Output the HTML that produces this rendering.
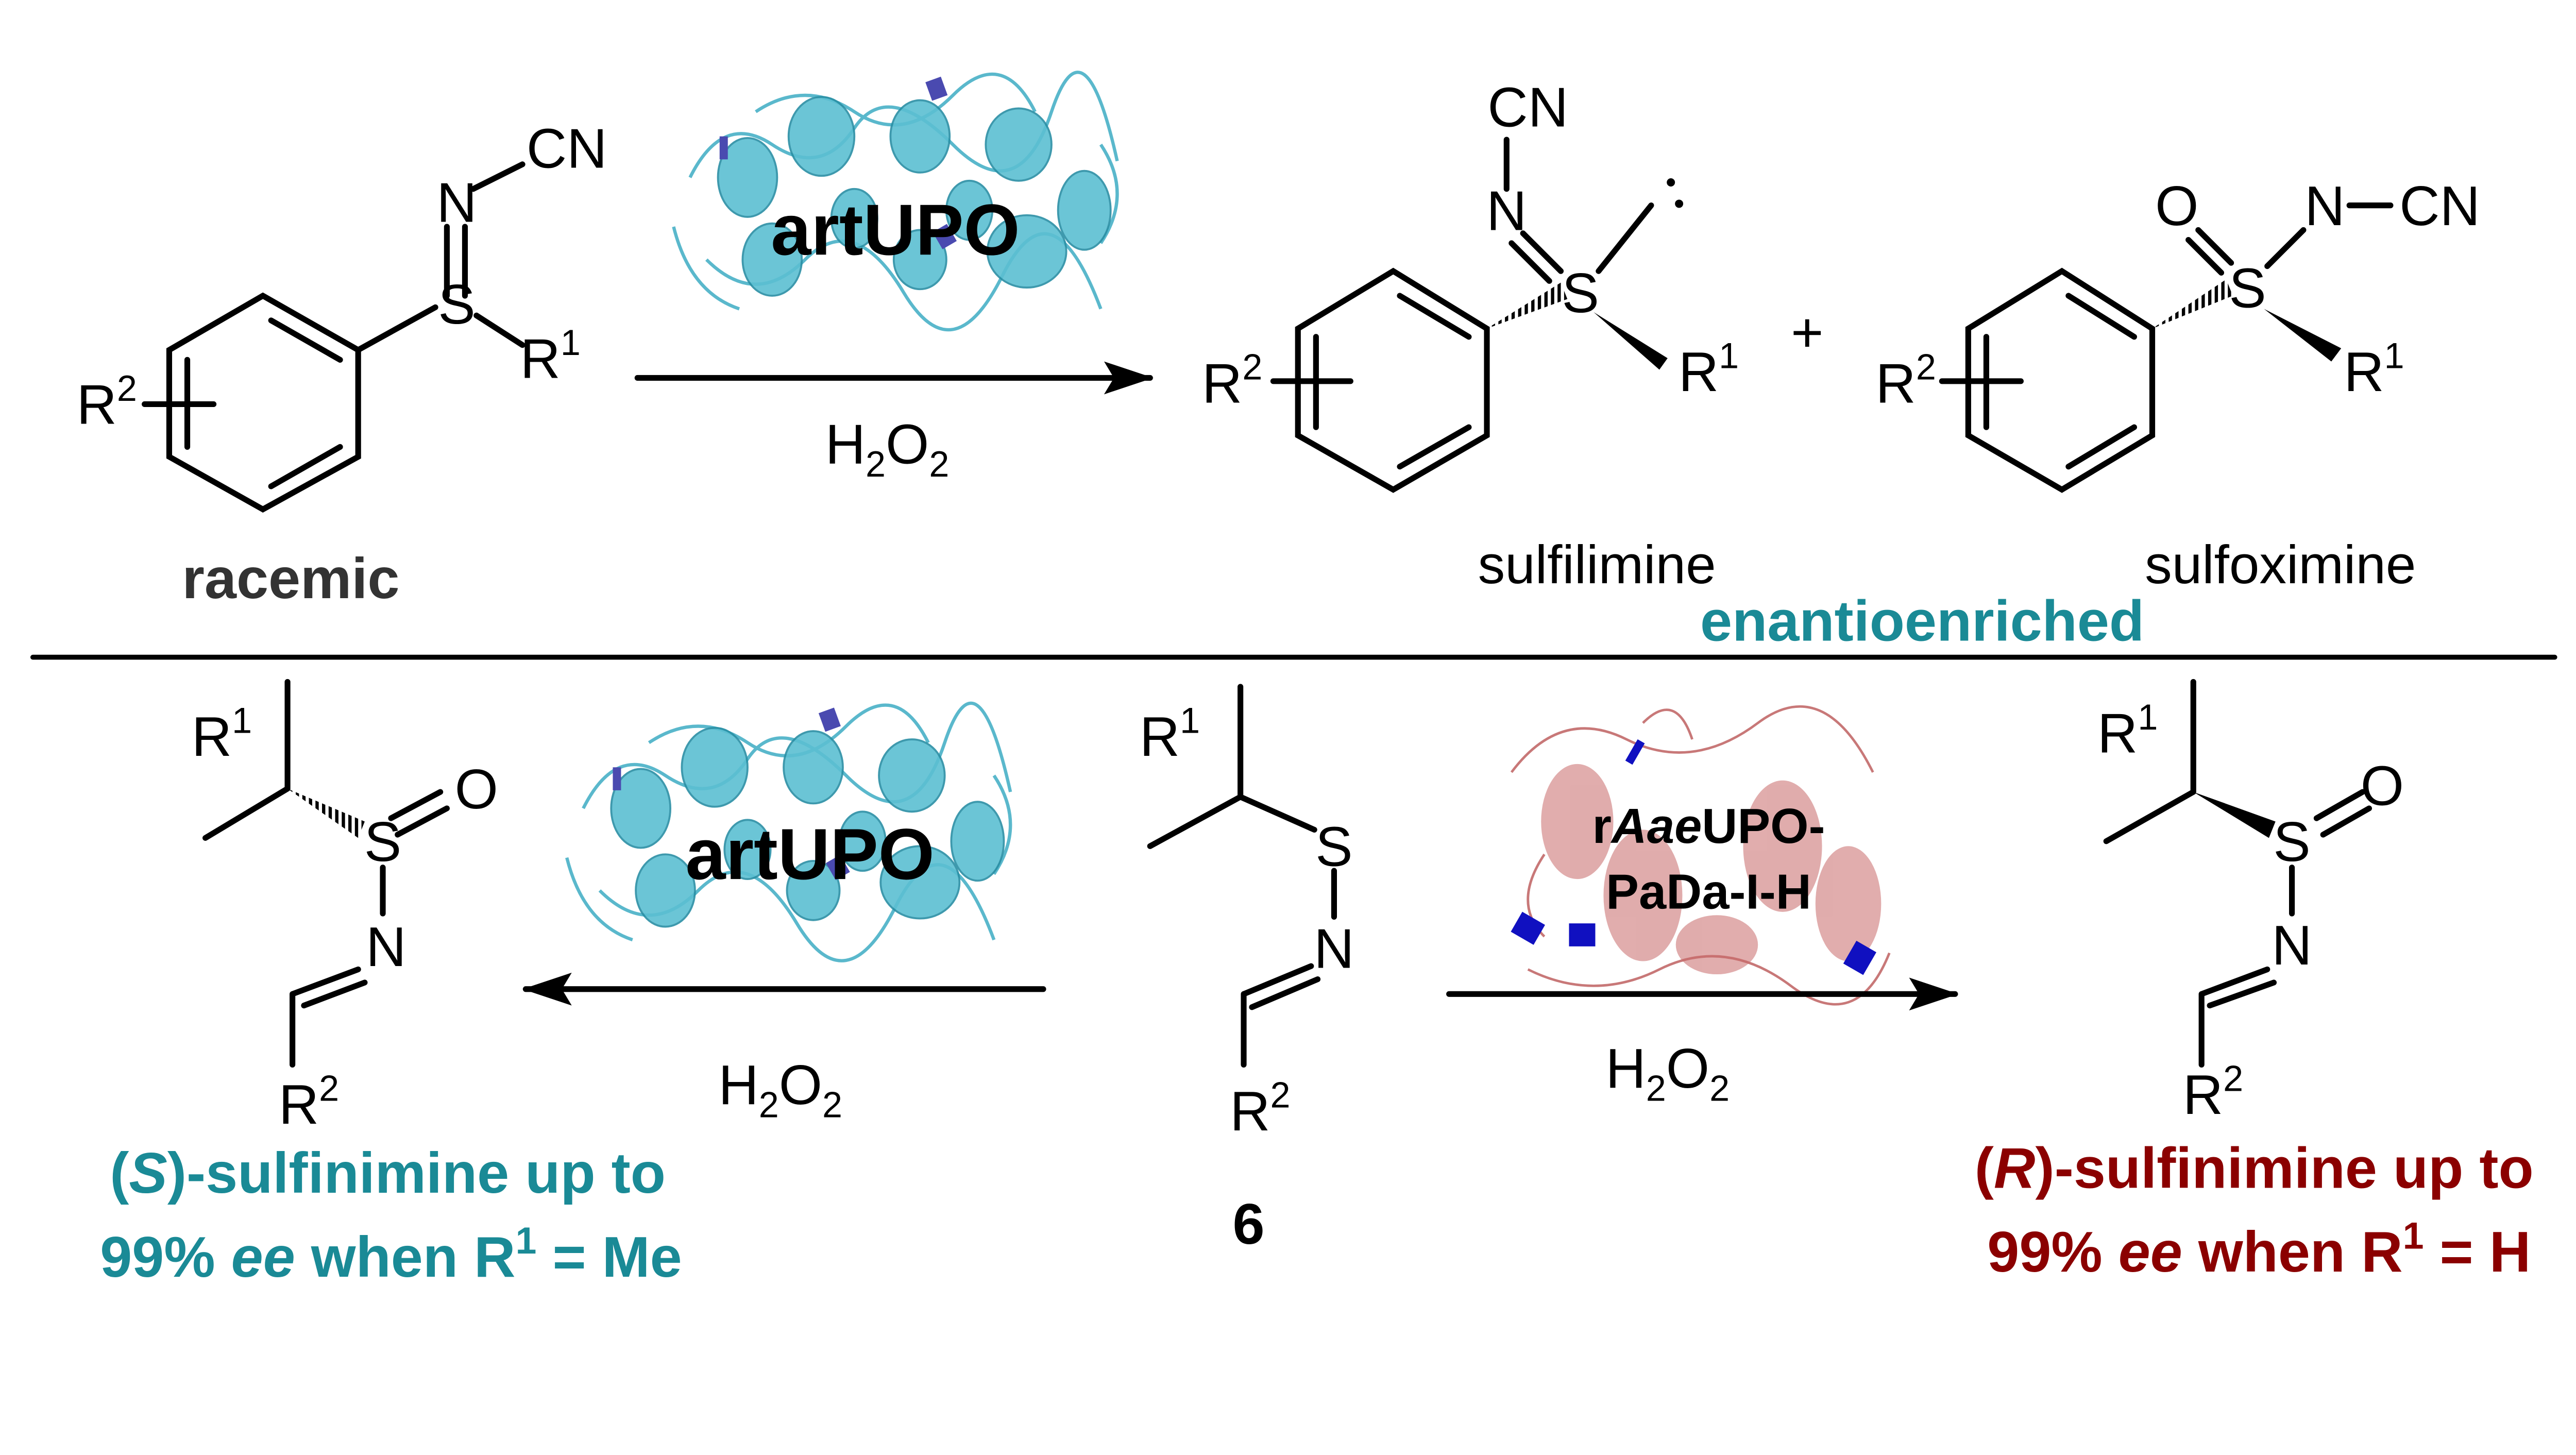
<!DOCTYPE html>
<html><head><meta charset="utf-8"><style>
html,body{margin:0;padding:0;background:#fff;overflow:hidden;}
svg{display:block;}
text{font-family:"Liberation Sans",sans-serif;}
</style></head><body>
<svg width="5249" height="2824" viewBox="0 0 1646 885" preserveAspectRatio="xMinYMin meet" xmlns="http://www.w3.org/2000/svg">
<defs>
<marker id="ah" markerWidth="30" markerHeight="20" refX="28" refY="10" orient="auto" markerUnits="userSpaceOnUse" viewBox="0 0 30 20">
<path d="M0,0 L30,10 L0,20 L6,10 z" fill="#000"/></marker>
<pattern id="hash" width="4" height="4" patternUnits="userSpaceOnUse"><rect width="2" height="4" fill="#000"/></pattern>
<g id="blueprot">
<path d="M-130,-20 q20,-40 50,-20 t50,-10 t60,10 t60,-20 t40,30 M-120,30 q30,30 60,0 t60,20 t60,-10 t60,20 M-90,-60 q30,-20 60,0 t60,-10 t50,10 M-140,10 q10,40 40,50 M120,-40 q20,30 0,60" stroke="#5ab8cc" stroke-width="2" fill="none"/>
<g fill="#5cbfd2" stroke="#2a8fa5" stroke-width="1.2" opacity="0.9">
<ellipse cx="-95" cy="-20" rx="18" ry="24"/><ellipse cx="-50" cy="-45" rx="20" ry="24"/>
<ellipse cx="10" cy="-45" rx="18" ry="22"/><ellipse cx="70" cy="-40" rx="20" ry="22"/>
<ellipse cx="-80" cy="30" rx="18" ry="22"/><ellipse cx="75" cy="25" rx="24" ry="22"/>
<ellipse cx="10" cy="30" rx="16" ry="18"/><ellipse cx="110" cy="0" rx="16" ry="24"/>
<ellipse cx="-30" cy="5" rx="14" ry="18"/><ellipse cx="40" cy="0" rx="14" ry="18"/>
</g>
<rect x="15" y="-80" width="10" height="12" fill="#4a4ab0" transform="rotate(-20 20 -74)"/>
<rect x="-112" y="-45" width="5" height="14" fill="#4a4ab0"/>
<rect x="20" y="10" width="10" height="12" fill="#4a4ab0" transform="rotate(-30 25 16)"/>
</g>
</defs>

<use href="#blueprot" x="550" y="128"/>
<use href="#blueprot" x="485" y="512"/>
<g>
<path d="M920,470 q30,-40 70,-20 t80,-10 t70,30 M930,590 q40,20 80,0 t80,10 t60,-20 M1000,440 q20,-20 30,10 M940,520 q-20,30 0,50" stroke="#c87878" stroke-width="1.5" fill="none"/>
<g fill="#c86a6a" opacity="0.55">
<ellipse cx="960" cy="500" rx="22" ry="35"/><ellipse cx="1000" cy="545" rx="24" ry="40"/>
<ellipse cx="1085" cy="515" rx="24" ry="40"/><ellipse cx="1125" cy="550" rx="20" ry="35"/>
<ellipse cx="1045" cy="575" rx="25" ry="18"/>
</g>
<rect x="922" y="558" width="16" height="14" fill="#1010c0" transform="rotate(30 930 565)"/>
<rect x="955" y="562" width="16" height="14" fill="#1010c0"/>
<rect x="1125" y="575" width="14" height="16" fill="#1010c0" transform="rotate(30 1132 583)"/>
<rect x="993" y="450" width="5" height="15" fill="#1010c0" transform="rotate(30 995 457)"/>
</g>

<g stroke="#000" stroke-width="3.5" fill="none" stroke-linecap="round">
<path d="M160,180 L218,213 L218,278 L160,310 L103,278 L103,213 Z"/>
<path d="M165,195 L207,219 M207,272 L165,296 M114,272 L114,219"/>
<path d="M218,213 L265,187 M283,180 L283,138 M272,180 L272,138 M288,115 L318,100 M290,192 L318,210"/>
<path d="M88,246 L130,246"/>
<path d="M848,165 L905,200 L905,265 L848,298 L790,265 L790,200 Z"/>
<path d="M852,180 L894,205 M894,260 L852,284 M801,260 L801,205"/>
<path d="M775,232 L822,232"/>
<path d="M927,142 L950,165 M920,148 L943,171 M917,115 L917,85 M973,165 L1005,125"/>
<path d="M1255,165 L1310,200 L1310,265 L1255,298 L1198,265 L1198,200 Z"/>
<path d="M1259,180 L1299,205 M1299,260 L1259,284 M1209,260 L1209,205"/>
<path d="M1182,232 L1230,232"/>
<path d="M1338,140 L1358,160 M1332,146 L1352,166 M1380,162 L1402,140 M1430,125 L1455,125"/>
<path d="M175,480 L175,415 M175,480 L125,510 M238,498 L268,482 M242,508 L272,492 M233,528 L233,556 M218,590 L178,605 M222,598 L185,612 M178,605 L178,648"/>
<path d="M755,485 L755,418 M755,485 L700,515 M755,485 L800,505 M812,530 L812,558 M798,588 L757,605 M802,596 L762,613 M757,605 L757,648"/>
<path d="M1335,482 L1335,415 M1335,482 L1282,512 M1410,498 L1438,482 M1414,508 L1442,492 M1395,528 L1395,556 M1380,590 L1340,605 M1384,598 L1345,612 M1340,605 L1340,648"/>
<path d="M388,230 L700,230" marker-end="url(#ah)"/>
<path d="M635,602 L320,602" marker-end="url(#ah)"/>
<path d="M882,605 L1190,605" marker-end="url(#ah)"/>
<path d="M20,400 L1555,400" stroke-width="3"/>
</g>
<polygon points="905,200 950,172 954,182" fill="url(#hash)"/>
<polygon points="1310,200 1355,170 1359,180" fill="url(#hash)"/>
<polygon points="175,480 222,500 218,510" fill="url(#hash)"/>
<polygon points="970,190 1015,218 1010,225" fill="#000"/>
<polygon points="1378,188 1425,212 1419,220" fill="#000"/>
<polygon points="1335,482 1385,500 1381,510" fill="#000"/>
<circle cx="1017" cy="111" r="2.5"/><circle cx="1022" cy="124" r="2.5"/>

<g font-size="34" fill="#000" text-anchor="middle">
<text x="278" y="135">N</text><text x="345" y="102">CN</text>
<text x="278" y="197">S</text><text x="335" y="230">R<tspan font-size="22" dy="-14">1</tspan></text>
<text x="65" y="258">R<tspan font-size="22" dy="-14">2</tspan></text>
<text x="930" y="77">CN</text><text x="917" y="140">N</text><text x="962" y="190">S</text>
<text x="1040" y="238">R<tspan font-size="22" dy="-14">1</tspan></text>
<text x="750" y="245">R<tspan font-size="22" dy="-14">2</tspan></text>
<text x="1100" y="214">+</text>
<text x="1325" y="137">O</text><text x="1415" y="137">N</text><text x="1485" y="137">CN</text>
<text x="1368" y="187">S</text><text x="1445" y="238">R<tspan font-size="22" dy="-14">1</tspan></text>
<text x="1160" y="245">R<tspan font-size="22" dy="-14">2</tspan></text>
<text x="972" y="355" font-size="33">sulfilimine</text>
<text x="1388" y="355" font-size="33">sulfoximine</text>
<text x="540" y="282">H<tspan font-size="22" dy="8">2</tspan><tspan dy="-8">O</tspan><tspan font-size="22" dy="8">2</tspan></text>
<text x="475" y="672">H<tspan font-size="22" dy="8">2</tspan><tspan dy="-8">O</tspan><tspan font-size="22" dy="8">2</tspan></text>
<text x="1015" y="662">H<tspan font-size="22" dy="8">2</tspan><tspan dy="-8">O</tspan><tspan font-size="22" dy="8">2</tspan></text>
<text x="135" y="460">R<tspan font-size="22" dy="-14">1</tspan></text>
<text x="290" y="492">O</text><text x="233" y="524">S</text><text x="235" y="588">N</text>
<text x="188" y="684">R<tspan font-size="22" dy="-14">2</tspan></text>
<text x="712" y="460">R<tspan font-size="22" dy="-14">1</tspan></text>
<text x="812" y="527">S</text><text x="812" y="589">N</text>
<text x="767" y="688">R<tspan font-size="22" dy="-14">2</tspan></text>
<text x="1295" y="458">R<tspan font-size="22" dy="-14">1</tspan></text>
<text x="1450" y="490">O</text><text x="1395" y="524">S</text><text x="1395" y="587">N</text>
<text x="1347" y="678">R<tspan font-size="22" dy="-14">2</tspan></text>
</g>
<g font-weight="bold" text-anchor="middle">
<text x="545" y="155" font-size="44" fill="#000">artUPO</text>
<text x="493" y="535" font-size="44" fill="#000">artUPO</text>
<text x="1040" y="513" font-size="30" fill="#000">r<tspan font-style="italic">Aae</tspan>UPO-</text>
<text x="1040" y="553" font-size="30" fill="#000">PaDa-I-H</text>
<text x="177" y="364" font-size="35" fill="#333">racemic</text>
<text x="1170" y="390" font-size="35" fill="#1a8a96">enantioenriched</text>
<text x="760" y="757" font-size="35" fill="#000">6</text>
<text x="236" y="726" font-size="35" fill="#1a8a96">(<tspan font-style="italic">S</tspan>)-sulfinimine up to</text>
<text x="238" y="777" font-size="35" fill="#1a8a96">99% <tspan font-style="italic">ee</tspan> when R<tspan font-size="23" dy="-14">1</tspan><tspan dy="14"> = Me</tspan></text>
<text x="1372" y="723" font-size="35" fill="#8b0000">(<tspan font-style="italic">R</tspan>)-sulfinimine up to</text>
<text x="1375" y="774" font-size="35" fill="#8b0000">99% <tspan font-style="italic">ee</tspan> when R<tspan font-size="23" dy="-14">1</tspan><tspan dy="14"> = H</tspan></text>
</g>
</svg>
</body></html>
